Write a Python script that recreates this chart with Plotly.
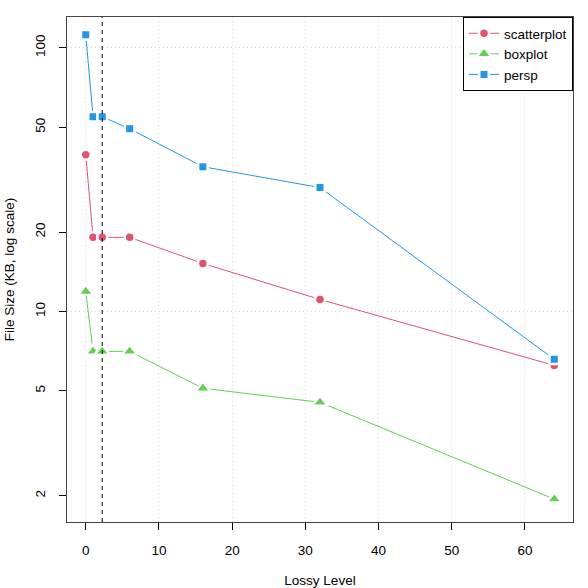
import plotly.graph_objects as go

lossy_level = [0, 1, 2.25, 6, 16, 32, 64]
scatterplot = [39.3, 19.1, 19.1, 19.1, 15.2, 11.1, 6.24]
boxplot = [11.9, 7.05, 7.05, 7.05, 5.11, 4.52, 1.94]
persp = [112, 54.8, 54.8, 49.3, 35.4, 29.5, 6.58]
series_names = ["scatterplot", "boxplot", "persp"]
series_colors = ["#DF536B", "#61D04F", "#2297E6"]
series_symbols = ["circle", "triangle-up", "square"]
marker_sizes = [10, 13.5, 9.5]
x_ticks = [0, 10, 20, 30, 40, 50, 60]
y_ticks = [2, 5, 10, 20, 50, 100]
y_grid = [10, 100]
chosen_level = 2.25

FONT = "Liberation Sans, Arial, sans-serif"

fig = go.Figure()
for name, vals, col, sym, ms in zip(series_names, [scatterplot, boxplot, persp],
                                    series_colors, series_symbols, marker_sizes):
    fig.add_trace(go.Scatter(
        x=lossy_level, y=vals, name=name, mode="lines+markers",
        line=dict(color=col, width=1),
        marker=dict(symbol=sym, size=ms, color=col,
                    line=dict(color="white", width=2.5)),
    ))

fig.add_vline(x=chosen_level, line=dict(color="black", width=1, dash="4px,4px"))

fig.update_layout(
    width=588, height=588,
    margin=dict(l=67, r=15, t=17, b=66),
    paper_bgcolor="white", plot_bgcolor="white",
    font=dict(family=FONT, size=13.5, color="black"),
    showlegend=True,
    legend=dict(x=1, y=1, xanchor="right", yanchor="top",
                bgcolor="white", bordercolor="black", borderwidth=1,
                font=dict(size=13.5), itemwidth=30, tracegroupgap=0),
    xaxis=dict(
        range=[-2.56, 66.56], tickmode="array", tickvals=x_ticks,
        ticks="outside", ticklen=7, tickcolor="black",
        showline=True, mirror=True, linecolor="#444", linewidth=1,
        showgrid=True, gridcolor="#d9d9d9", griddash="1px,3px", gridwidth=1,
        zeroline=False, ticklabelstandoff=9, automargin=False,
        title=dict(text="Lossy Level", standoff=20, font=dict(size=13.5)),
    ),
    yaxis=dict(
        type="log", range=[0.201, 2.117], tickmode="array",
        tickvals=y_ticks, ticktext=[str(v) for v in y_ticks],
        tickangle=-90,
        ticks="outside", ticklen=7, tickcolor="black",
        showline=True, mirror=True, linecolor="#444", linewidth=1,
        showgrid=False, zeroline=False, ticklabelstandoff=9, automargin=False,
        minor=dict(tickmode="array", tickvals=y_grid, showgrid=True,
                   gridcolor="#d9d9d9", griddash="1px,3px", ticklen=0),
        title=dict(text="File Size (KB, log scale)", standoff=14,
                   font=dict(size=13.5)),
    ),
)

fig.write_html("out.html")
